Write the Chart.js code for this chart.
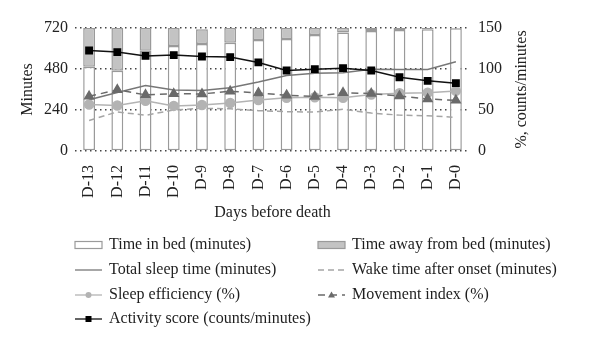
<!DOCTYPE html>
<html>
<head>
<meta charset="utf-8">
<script src="https://cdn.jsdelivr.net/npm/chart.js@4.4.0/dist/chart.umd.min.js"></script>
<style>
  html, body { margin: 0; padding: 0; background: #fff; }
  #wrap { width: 600px; height: 351px; position: relative; }
</style>
</head>
<body>
<div id="wrap"><canvas id="sleepChart"></canvas></div>
<script>
// days before death
const days = ["D-13", "D-12", "D-11", "D-10", "D-9", "D-8", "D-7", "D-6", "D-5", "D-4", "D-3", "D-2", "D-1", "D-0"];

// minutes (left axis)
const timeInBed = [493, 470, 587, 615, 626, 634, 650, 656, 679, 693, 703, 708, 712, 718];
const timeAwayFromBed = [227, 250, 133, 105, 86, 86, 70, 64, 41, 27, 17, 12, 8, 2];
const totalSleepTime = [300, 343, 384, 357, 354, 370, 404, 442, 455, 458, 478, 477, 477, 523];
const wakeAfterOnset = [179, 229, 209, 240, 250, 247, 236, 230, 228, 244, 222, 210, 206, 197];

// %, counts/minutes (right axis)
const sleepEfficiency = [56.8, 55.4, 61.3, 55, 56, 58.5, 62.3, 65, 65.6, 65, 69, 70.5, 71, 73.3];
const movementIndex = [66.7, 74.6, 68.5, 69.8, 69.6, 72.8, 70.8, 68, 66.4, 71, 70, 67, 63.4, 61.8];
const activityScore = [122.6, 120.6, 116, 117, 115.2, 114.5, 108, 98.2, 99.8, 101, 98.2, 90, 85.6, 82.7];

const minuteTicks = [0, 240, 480, 720];
const percentTicks = [0, 50, 100, 150];

const serif = "'Liberation Serif', 'DejaVu Serif', serif";
Chart.defaults.font.family = serif;
Chart.defaults.font.size = 16;
Chart.defaults.color = "#222";

// legend in two columns under the chart, drawn from the dataset styles
const legendPlugin = {
  id: "twoColLegend",
  afterDraw(chart) {
    const ctx = chart.ctx;
    const colX = [75, 318];
    const rowY = [245, 270, 295, 319];
    ctx.save();
    ctx.font = "16px " + serif;
    ctx.textBaseline = "middle";
    chart.data.datasets.forEach(function (ds, i) {
      const x = colX[i % 2];
      const y = rowY[Math.floor(i / 2)];
      if (ds.type === "bar") {
        ctx.fillStyle = ds.backgroundColor;
        ctx.fillRect(x, y - 3.5, 27, 7);
        ctx.strokeStyle = ds.borderColor;
        ctx.lineWidth = 1.2;
        ctx.strokeRect(x, y - 3.5, 27, 7);
      } else {
        ctx.strokeStyle = ds.borderColor;
        ctx.lineWidth = 1.3;
        ctx.setLineDash(ds.borderDash || []);
        ctx.beginPath();
        ctx.moveTo(x, y);
        ctx.lineTo(x + 27, y);
        ctx.stroke();
        ctx.setLineDash([]);
        if (ds.pointRadius > 0) {
          const cx = x + 13.5;
          ctx.fillStyle = ds.pointBackgroundColor;
          ctx.beginPath();
          if (ds.pointStyle === "circle") {
            ctx.arc(cx, y, 3, 0, Math.PI * 2);
          } else if (ds.pointStyle === "triangle") {
            ctx.moveTo(cx, y - 3.5);
            ctx.lineTo(cx + 3.5, y + 2.5);
            ctx.lineTo(cx - 3.5, y + 2.5);
            ctx.closePath();
          } else {
            ctx.rect(cx - 3, y - 3, 6, 6);
          }
          ctx.fill();
        }
      }
      ctx.fillStyle = "#1e1e1e";
      ctx.textAlign = "left";
      ctx.fillText(ds.label, x + 34, y);
    });

    // right axis title reads bottom to top
    const area = chart.chartArea;
    ctx.translate(522, (area.top + area.bottom) / 2);
    ctx.rotate(-Math.PI / 2);
    ctx.textAlign = "center";
    ctx.fillStyle = "#222";
    ctx.fillText("%, counts/minutes", 0, 0);
    ctx.restore();
  }
};

const ctx = document.getElementById("sleepChart").getContext("2d");

const sleepChart = new Chart(ctx, {
  data: {
    labels: days,
    datasets: [
      {
        type: "bar",
        label: "Time in bed (minutes)",
        data: timeInBed,
        yAxisID: "y",
        stack: "bed",
        backgroundColor: "#ffffff",
        borderColor: "#9a9a9a",
        borderWidth: 1.5,
        borderSkipped: false,
        barPercentage: 0.42,
        categoryPercentage: 1,
        order: 10
      },
      {
        type: "bar",
        label: "Time away from bed (minutes)",
        data: timeAwayFromBed,
        yAxisID: "y",
        stack: "bed",
        backgroundColor: "#c3c3c3",
        borderColor: "#9a9a9a",
        borderWidth: 1.5,
        borderSkipped: false,
        barPercentage: 0.42,
        categoryPercentage: 1,
        order: 11
      },
      {
        type: "line",
        label: "Total sleep time (minutes)",
        data: totalSleepTime,
        yAxisID: "y",
        stack: "tst",
        borderColor: "#777777",
        borderWidth: 1.5,
        pointRadius: 0,
        tension: 0,
        order: 5
      },
      {
        type: "line",
        label: "Wake time after onset (minutes)",
        data: wakeAfterOnset,
        yAxisID: "y",
        stack: "waso",
        borderColor: "#a5a5a5",
        borderWidth: 1.5,
        borderDash: [6, 4],
        pointRadius: 0,
        tension: 0,
        order: 4
      },
      {
        type: "line",
        label: "Sleep efficiency (%)",
        data: sleepEfficiency,
        yAxisID: "y1",
        borderColor: "#b3b3b3",
        borderWidth: 1.5,
        pointStyle: "circle",
        pointRadius: 4.5,
        pointBackgroundColor: "#b3b3b3",
        pointBorderColor: "#b3b3b3",
        tension: 0,
        order: 3
      },
      {
        type: "line",
        label: "Movement index (%)",
        data: movementIndex,
        yAxisID: "y1",
        borderColor: "#6a6a6a",
        borderWidth: 1.5,
        borderDash: [7, 5],
        pointStyle: "triangle",
        pointRadius: 5,
        pointBackgroundColor: "#6a6a6a",
        pointBorderColor: "#6a6a6a",
        tension: 0,
        order: 2
      },
      {
        type: "line",
        label: "Activity score (counts/minutes)",
        data: activityScore,
        yAxisID: "y1",
        borderColor: "#111111",
        borderWidth: 1.5,
        pointStyle: "rect",
        pointRadius: 4.5,
        pointBackgroundColor: "#000000",
        pointBorderColor: "#000000",
        tension: 0,
        order: 1
      }
    ]
  },
  options: {
    responsive: true,
    maintainAspectRatio: false,
    animation: false,
    layout: { padding: { top: 28, right: 60, bottom: 125, left: 0 } },
    plugins: {
      legend: { display: false },
      tooltip: { enabled: false }
    },
    scales: {
      x: {
        stacked: true,
        grid: { display: false },
        border: { display: false },
        ticks: { minRotation: 90, maxRotation: 90, autoSkip: false, padding: 6 },
        title: { display: true, text: "Days before death", padding: { top: 0, bottom: 4 } },
        afterFit: function (scale) { scale.height = 75; }
      },
      y: {
        position: "left",
        stacked: true,
        min: 0,
        max: 720,
        afterBuildTicks: function (scale) { scale.ticks = minuteTicks.map(v => ({ value: v })); },
        grid: { color: "#444", lineWidth: 1.5, drawTicks: false },
        border: { display: false, dash: [1.5, 3.5] },
        ticks: { padding: 7 },
        title: { display: true, text: "Minutes", padding: { top: 18, bottom: 0 } },
        afterFit: function (scale) { scale.width = 75; }
      },
      y1: {
        position: "right",
        min: 0,
        max: 150,
        afterBuildTicks: function (scale) { scale.ticks = percentTicks.map(v => ({ value: v })); },
        grid: { display: false, drawTicks: false },
        border: { display: false },
        ticks: { padding: 8 },
        afterFit: function (scale) { scale.width = 70; }
      }
    }
  },
  plugins: [legendPlugin]
});
</script>
</body>
</html>
